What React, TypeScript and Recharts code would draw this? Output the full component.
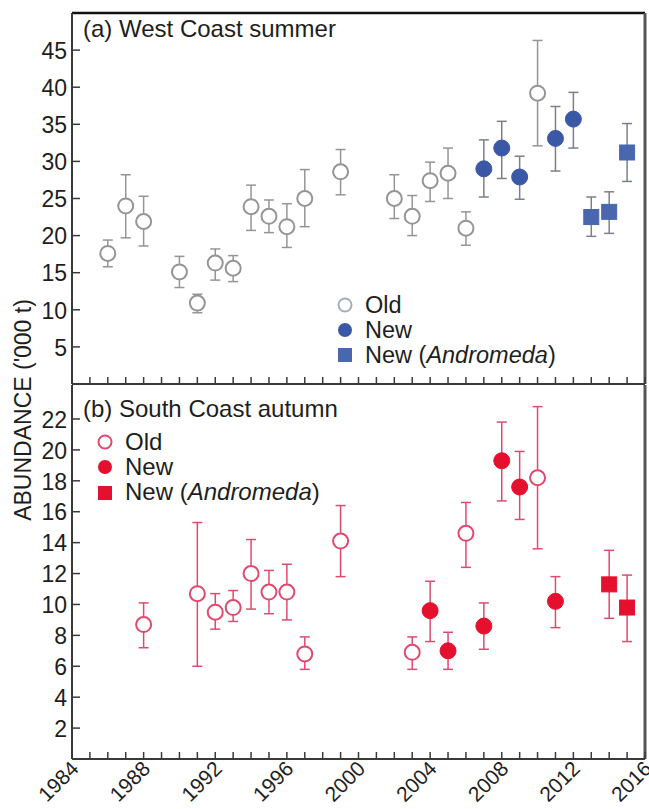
import React from "react";
import { ScatterChart, Scatter, XAxis, YAxis, ErrorBar, ReferenceLine } from "recharts";

// ---------- Data: (a) West Coast summer ----------
const westOldYears = [1986, 1987, 1988, 1990, 1991, 1992, 1993, 1994, 1995, 1996, 1997, 1999, 2002, 2003, 2004, 2005, 2006, 2010];
const westOldValues = [17.6, 24.0, 21.9, 15.1, 10.9, 16.3, 15.6, 23.9, 22.6, 21.2, 25.0, 28.6, 25.0, 22.6, 27.4, 28.4, 21.0, 39.2];
const westOldLow = [15.8, 19.7, 18.6, 13.0, 9.6, 14.0, 13.8, 20.7, 20.4, 18.4, 21.2, 25.5, 22.3, 20.0, 24.6, 25.0, 18.7, 32.1];
const westOldHigh = [19.4, 28.2, 25.3, 17.2, 12.1, 18.2, 17.3, 26.8, 24.8, 24.3, 28.9, 31.6, 28.2, 25.4, 29.9, 31.8, 23.2, 46.3];

const westNewYears = [2007, 2008, 2009, 2011, 2012];
const westNewValues = [29.0, 31.8, 27.9, 33.1, 35.7];
const westNewLow = [25.2, 27.7, 24.9, 28.7, 31.8];
const westNewHigh = [32.9, 35.4, 30.7, 37.4, 39.3];

const westAndYears = [2013, 2014, 2015];
const westAndValues = [22.5, 23.2, 31.2];
const westAndLow = [19.9, 20.3, 27.3];
const westAndHigh = [25.2, 25.9, 35.1];

// ---------- Data: (b) South Coast autumn ----------
const southOldYears = [1988, 1991, 1992, 1993, 1994, 1995, 1996, 1997, 1999, 2003, 2006, 2010];
const southOldValues = [8.7, 10.7, 9.5, 9.8, 12.0, 10.8, 10.8, 6.8, 14.1, 6.9, 14.6, 18.2];
const southOldLow = [7.2, 6.0, 8.4, 8.9, 9.7, 9.4, 9.0, 5.8, 11.8, 5.8, 12.4, 13.6];
const southOldHigh = [10.1, 15.3, 10.7, 10.9, 14.2, 12.2, 12.6, 7.9, 16.4, 7.9, 16.6, 22.8];

const southNewYears = [2004, 2005, 2007, 2008, 2009, 2011];
const southNewValues = [9.6, 7.0, 8.6, 19.3, 17.6, 10.2];
const southNewLow = [7.6, 5.8, 7.1, 16.7, 15.5, 8.5];
const southNewHigh = [11.5, 8.2, 10.1, 21.8, 19.9, 11.8];

const southAndYears = [2014, 2015];
const southAndValues = [11.3, 9.8];
const southAndLow = [9.1, 7.6];
const southAndHigh = [13.5, 11.9];

// ---------- Ticks ----------
const yearTicks = Array.from({ length: 33 }, (_, i) => 1984 + i);
const westTicks = [5, 10, 15, 20, 25, 30, 35, 40, 45];
const southTicks = [2, 4, 6, 8, 10, 12, 14, 16, 18, 20, 22];

const build = (years: number[], vals: number[], lo: number[], hi: number[]) =>
  years.map((yr, i) => ({ x: yr, y: vals[i], err: [vals[i] - lo[i], hi[i] - vals[i]] }));

const wOld = build(westOldYears, westOldValues, westOldLow, westOldHigh);
const wNew = build(westNewYears, westNewValues, westNewLow, westNewHigh);
const wAnd = build(westAndYears, westAndValues, westAndLow, westAndHigh);
const sOld = build(southOldYears, southOldValues, southOldLow, southOldHigh);
const sNew = build(southNewYears, southNewValues, southNewLow, southNewHigh);
const sAnd = build(southAndYears, southAndValues, southAndLow, southAndHigh);

const FONT = "'Liberation Sans', Arial, Helvetica, sans-serif";
const AXIS = "#3a3a3a";
const TXT = "#1e1e1e";

const W_OLD = "#959595";
const W_BAR = "#7c7f8c";
const W_NEW = "#3a58a6";
const W_AND = "#4867ae";
const S_OLD = "#e04a6c";
const S_BAR = "#e04a6e";
const S_NEW = "#e5102e";

const YTick = (props: any) => {
  const { x, y, payload } = props;
  return (
    <g>
      <line x1={x} x2={x + 8} y1={y} y2={y} stroke={AXIS} strokeWidth={1.5} />
      <text x={x - 5} y={y} dy="0.38em" textAnchor="end" fontSize={23} fill={TXT} fontFamily={FONT}>
        {payload.value}
      </text>
    </g>
  );
};

const XTickTop = (props: any) => {
  const { x, y } = props;
  return <line x1={x} x2={x} y1={y} y2={y - 7} stroke={AXIS} strokeWidth={1.5} />;
};

const XTickBottom = (props: any) => {
  const { x, y, payload } = props;
  const v = payload.value as number;
  const tx = x + 8;
  const ty = y + 11;
  return (
    <g>
      <line x1={x} x2={x} y1={y} y2={y - 7} stroke={AXIS} strokeWidth={1.5} />
      {v % 4 === 0 ? (
        <text x={tx} y={ty} textAnchor="end" fontSize={21} fill={TXT} fontFamily={FONT} transform={`rotate(-45, ${tx}, ${ty})`}>
          {v}
        </text>
      ) : null}
    </g>
  );
};

const openCircle = (stroke: string) => (p: any) => (
  <circle cx={p.cx} cy={p.cy} r={7.5} fill="#ffffff" stroke={stroke} strokeWidth={2} />
);
const filledCircle = (fill: string) => (p: any) => (
  <circle cx={p.cx} cy={p.cy} r={8} fill={fill} stroke={fill} strokeWidth={1} />
);
const filledSquare = (fill: string) => (p: any) => (
  <rect x={p.cx - 7.5} y={p.cy - 7.5} width={15} height={15} fill={fill} stroke={fill} strokeWidth={1} />
);

export default function App() {
  return (
    <div style={{ position: "absolute", left: 0, top: 0, width: 649, height: 809, background: "#fff" }}>
      <div style={{ position: "absolute", left: 0, top: 0 }}>
        <ScatterChart width={649} height={385} margin={{ top: 13, right: 4, bottom: 0, left: 0 }}>
          <XAxis
            type="number"
            dataKey="x"
            domain={[1984, 2016]}
            ticks={yearTicks}
            interval={0}
            height={1}
            tickSize={0}
            tickMargin={0}
            tick={<XTickTop />}
            axisLine={{ stroke: AXIS, strokeWidth: 2 }}
            allowDataOverflow
          />
          <YAxis
            type="number"
            dataKey="y"
            domain={[0, 50]}
            ticks={westTicks}
            interval={0}
            width={72}
            tickSize={0}
            tickMargin={0}
            tick={<YTick />}
            axisLine={{ stroke: AXIS, strokeWidth: 2 }}
            allowDataOverflow
          />
          <ReferenceLine y={50} stroke="#111" strokeWidth={2.5} />
          <ReferenceLine x={2016} stroke="#555" strokeWidth={3} />
          <Scatter data={wOld} isAnimationActive={false} shape={openCircle(W_OLD)}>
            <ErrorBar dataKey="err" direction="y" width={5} stroke={W_OLD} strokeWidth={1.5} isAnimationActive={false} />
          </Scatter>
          <Scatter data={wNew} isAnimationActive={false} shape={filledCircle(W_NEW)}>
            <ErrorBar dataKey="err" direction="y" width={5} stroke={W_BAR} strokeWidth={1.5} isAnimationActive={false} />
          </Scatter>
          <Scatter data={wAnd} isAnimationActive={false} shape={filledSquare(W_AND)}>
            <ErrorBar dataKey="err" direction="y" width={5} stroke={W_BAR} strokeWidth={1.5} isAnimationActive={false} />
          </Scatter>
        </ScatterChart>
      </div>
      <div style={{ position: "absolute", left: 0, top: 385 }}>
        <ScatterChart width={649} height={424} margin={{ top: 0, right: 4, bottom: 0, left: 0 }}>
          <XAxis
            type="number"
            dataKey="x"
            domain={[1984, 2016]}
            ticks={yearTicks}
            interval={0}
            height={50}
            tickSize={0}
            tickMargin={0}
            tick={<XTickBottom />}
            axisLine={{ stroke: AXIS, strokeWidth: 2 }}
            allowDataOverflow
          />
          <YAxis
            type="number"
            dataKey="y"
            domain={[0, 24.2]}
            ticks={southTicks}
            interval={0}
            width={72}
            tickSize={0}
            tickMargin={0}
            tick={<YTick />}
            axisLine={{ stroke: AXIS, strokeWidth: 2 }}
            allowDataOverflow
          />
          <ReferenceLine x={2016} stroke="#555" strokeWidth={3} />
          <Scatter data={sOld} isAnimationActive={false} shape={openCircle(S_OLD)}>
            <ErrorBar dataKey="err" direction="y" width={5} stroke={S_BAR} strokeWidth={1.5} isAnimationActive={false} />
          </Scatter>
          <Scatter data={sNew} isAnimationActive={false} shape={filledCircle(S_NEW)}>
            <ErrorBar dataKey="err" direction="y" width={5} stroke={S_BAR} strokeWidth={1.5} isAnimationActive={false} />
          </Scatter>
          <Scatter data={sAnd} isAnimationActive={false} shape={filledSquare(S_NEW)}>
            <ErrorBar dataKey="err" direction="y" width={5} stroke={S_BAR} strokeWidth={1.5} isAnimationActive={false} />
          </Scatter>
        </ScatterChart>
      </div>
      <svg
        width={649}
        height={809}
        style={{ position: "absolute", left: 0, top: 0, pointerEvents: "none" }}
        fontFamily={FONT}
      >
        <text x={83} y={37} fontSize={24} fill={TXT}>(a) West Coast summer</text>
        <text x={83} y={417} fontSize={24} fill={TXT}>(b) South Coast autumn</text>
        <text x={31} y={410} fontSize={23} fill={TXT} textAnchor="middle" transform="rotate(-90, 31, 410)">
          ABUNDANCE ('000 t)
        </text>
        {/* legend (a) */}
        <circle cx={345} cy={305} r={6.5} fill="#fff" stroke="#a5aebe" strokeWidth={2} />
        <circle cx={345} cy={330} r={7} fill={W_NEW} />
        <rect x={338} y={348} width={14} height={14} fill={W_AND} />
        <text x={365} y={313} fontSize={23.5} fill={TXT}>Old</text>
        <text x={365} y={338} fontSize={23.5} fill={TXT}>New</text>
        <text x={365} y={363} fontSize={23.5} fill={TXT}>
          New (<tspan fontStyle="italic">Andromeda</tspan>)
        </text>
        {/* legend (b) */}
        <circle cx={105} cy={442} r={6.5} fill="#fff" stroke={S_OLD} strokeWidth={2} />
        <circle cx={105} cy={467} r={7} fill={S_NEW} />
        <rect x={98} y={486} width={14} height={14} fill={S_NEW} />
        <text x={125} y={450} fontSize={24} fill={TXT}>Old</text>
        <text x={125} y={475} fontSize={24} fill={TXT}>New</text>
        <text x={125} y={500} fontSize={24} fill={TXT}>
          New (<tspan fontStyle="italic">Andromeda</tspan>)
        </text>
      </svg>
    </div>
  );
}
